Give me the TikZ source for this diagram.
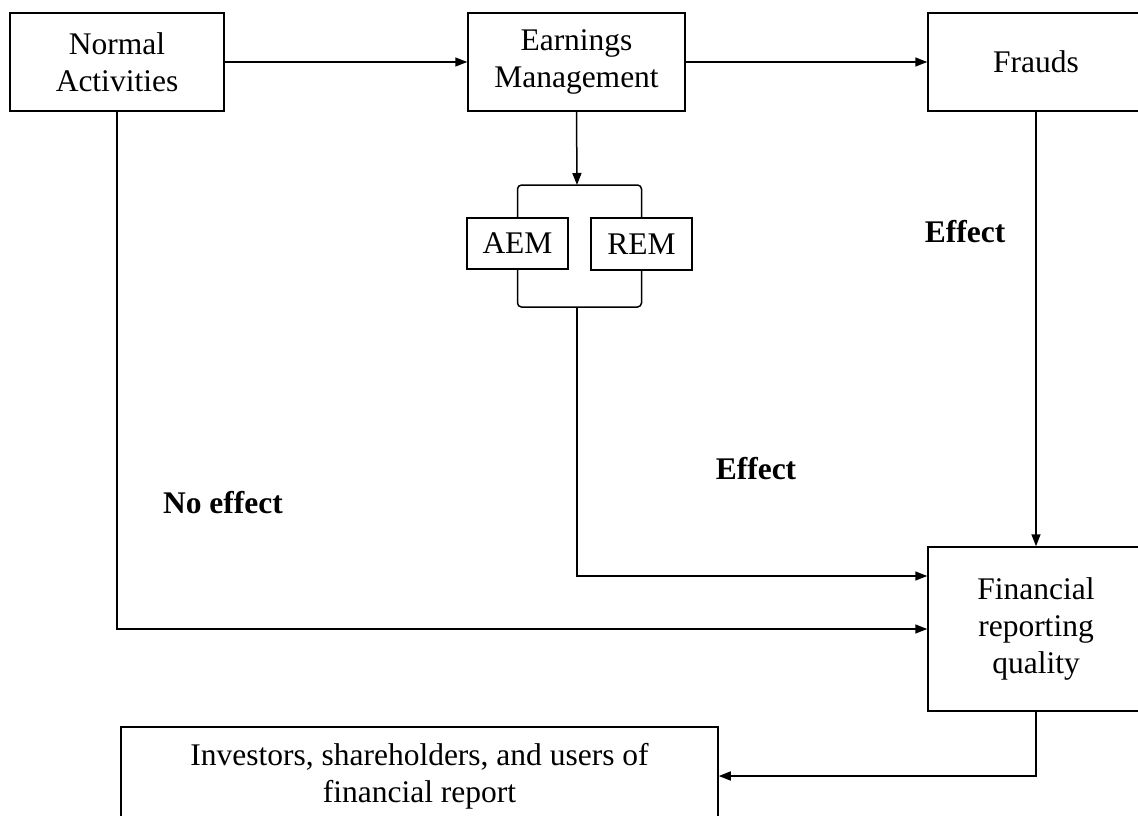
\documentclass[tikz,border=0pt]{standalone}
\usepackage{fontspec}
\setmainfont{Liberation Serif}
\usetikzlibrary{arrows.meta}

\begin{document}
\begin{tikzpicture}[x=1pt, y=-1pt,
    box/.style={draw, line width=1.5pt, align=center, inner sep=0pt,
      font=\fontsize{31.5}{37}\selectfont},
    lbl/.style={inner sep=0pt, font=\fontsize{31.5}{37}\selectfont\bfseries},
    arr/.style={line width=1.5pt, -{Triangle[length=12pt,width=9pt]}}]
  \useasboundingbox (0,0) rectangle (1138,816);
  \node[box, minimum width=214pt, minimum height=98pt] (na) at (117,62) {Normal\\Activities};
  \node[box, minimum width=217pt, minimum height=98pt] (em) at (576.5,62) {Earnings\\Management};
  \node[box, minimum width=216pt, minimum height=98pt] (fr) at (1036,62) {Frauds};
  \node[box, minimum width=101pt, minimum height=51pt] (aem) at (517.5,243.5) {AEM};
  \node[box, minimum width=101pt, minimum height=52pt] (rem) at (641.5,244) {REM};
  \node[box, minimum width=216pt, minimum height=164pt] (frq) at (1036,629) {Financial\\reporting\\quality};
  \node[box, minimum width=597pt, minimum height=98pt] (inv) at (419.5,776)
    {Investors, shareholders, and users of\\financial report};
  \coordinate (brtop) at (577,185);
  \coordinate (brbot) at (577,307);
  % labels
  \node[lbl] (noeff) at (223,503) {No effect};
  \node[lbl] (eff1) at (756,469) {Effect};
  \node[lbl] (eff2) at (965,232) {Effect};
  % connectors
  \draw[arr] (na.east) -- (em.west);
  \draw[arr] (em.east) -- (fr.west);
  \draw[arr] (em.south) -- (brtop);
  \draw[line width=1.5pt, rounded corners=4pt] (aem.north) |- (brtop) -| (rem.north);
  \draw[line width=1.5pt, rounded corners=4pt] (aem.south) |- (brbot) -| (rem.south);
  \draw[arr] (brbot) |- ([yshift=53pt]frq.west);
  \draw[arr] (na.south) |- (frq.west);
  \draw[arr] (fr.south) -- (frq.north);
  \draw[arr] (frq.south) |- (inv.east);
\end{tikzpicture}
\end{document}
